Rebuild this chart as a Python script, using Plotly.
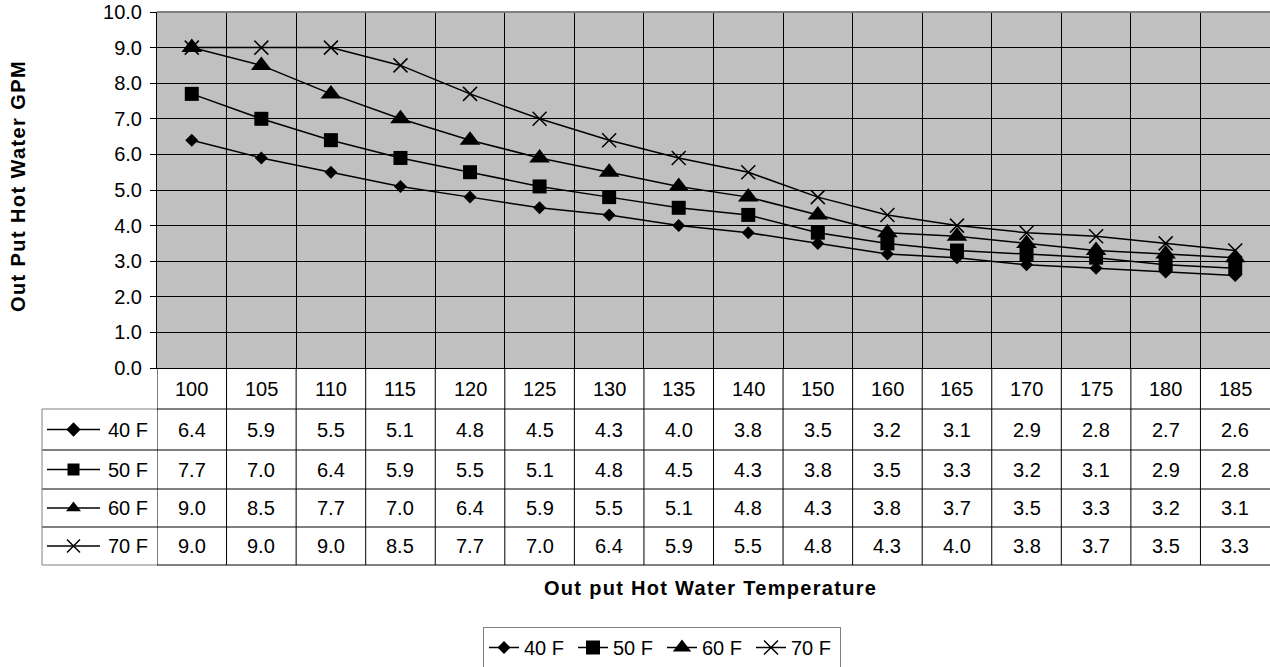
import plotly.graph_objects as go

# output hot water temperature (x categories)
temps = ["100", "105", "110", "115", "120", "125", "130", "135",
         "140", "150", "160", "165", "170", "175", "180", "185"]

series_names = ["40 F", "50 F", "60 F", "70 F"]
gpm_40 = [6.4, 5.9, 5.5, 5.1, 4.8, 4.5, 4.3, 4.0, 3.8, 3.5, 3.2, 3.1, 2.9, 2.8, 2.7, 2.6]
gpm_50 = [7.7, 7.0, 6.4, 5.9, 5.5, 5.1, 4.8, 4.5, 4.3, 3.8, 3.5, 3.3, 3.2, 3.1, 2.9, 2.8]
gpm_60 = [9.0, 8.5, 7.7, 7.0, 6.4, 5.9, 5.5, 5.1, 4.8, 4.3, 3.8, 3.7, 3.5, 3.3, 3.2, 3.1]
gpm_70 = [9.0, 9.0, 9.0, 8.5, 7.7, 7.0, 6.4, 5.9, 5.5, 4.8, 4.3, 4.0, 3.8, 3.7, 3.5, 3.3]
all_series = [gpm_40, gpm_50, gpm_60, gpm_70]

# marker styles
symbols = ["diamond", "square", "triangle-up", "x-thin"]
plot_sizes = [10, 14, 18, 14]
key_sizes = [11, 12, 13, 13]

W, H = 1270, 667
FONT = "Arial, Liberation Sans, sans-serif"
FS = 20
# layout positions in pixels
PLOT_L, PLOT_T, PLOT_B = 157, 12, 368
row_edges = [368, 409, 450, 489, 527, 565]   # table rows (header + 4 series)

fig = go.Figure()

for name, vals, sym, sz in zip(series_names, all_series, symbols, plot_sizes):
    fig.add_trace(go.Scatter(
        x=temps, y=vals, name=name, mode="lines+markers",
        line=dict(color="black", width=1.5),
        marker=dict(symbol=sym, size=sz, color="black",
                    line=dict(color="black", width=1.5 if sym == "x-thin" else 0)),
        xaxis="x", yaxis="y",
    ))

shapes = []
annotations = []

# plot area background (below gridlines)
shapes.append(dict(type="rect", xref="x domain", yref="y domain", x0=0, x1=1, y0=0, y1=1,
                   fillcolor="#c0c0c0", line=dict(width=0), layer="below"))
# gray top border
shapes.append(dict(type="line", xref="x domain", yref="y domain", x0=0, x1=1, y0=1, y1=1,
                   line=dict(color="#808080", width=2)))

# data table lines
for k, y in enumerate(row_edges[1:]):
    shapes.append(dict(type="line", xref="x2", yref="y2", x0=PLOT_L, x1=W, y0=y, y1=y,
                       line=dict(color="black", width=1)))
    shapes.append(dict(type="line", xref="x2", yref="y2", x0=42, x1=PLOT_L, y0=y, y1=y,
                       line=dict(color="#808080" if k in (0, 4) else "black", width=1)))
shapes.append(dict(type="line", xref="x2", yref="y2", x0=42, x1=42,
                   y0=row_edges[1], y1=row_edges[-1], line=dict(color="#808080", width=1)))
for j in range(len(temps)):
    shapes.append(dict(type="line", xref="x", yref="y2", x0=j - 0.5, x1=j - 0.5,
                       y0=row_edges[0], y1=row_edges[-1], line=dict(color="black", width=1)))

# header row labels
for j, t in enumerate(temps):
    annotations.append(dict(x=j, y=(row_edges[0] + row_edges[1]) / 2, xref="x", yref="y2",
                            text=t, showarrow=False, font=dict(size=FS)))

# series rows: key + values
for i, (name, vals) in enumerate(zip(series_names, all_series)):
    yc = (row_edges[i + 1] + row_edges[i + 2]) / 2
    shapes.append(dict(type="line", xref="x2", yref="y2", x0=47, x1=100, y0=yc, y1=yc,
                       line=dict(color="black", width=1.5)))
    fig.add_trace(go.Scatter(
        x=[73.5], y=[yc], mode="markers", showlegend=False, cliponaxis=False,
        marker=dict(symbol=symbols[i], size=key_sizes[i], color="black",
                    line=dict(color="black", width=1.5 if symbols[i] == "x-thin" else 0)),
        xaxis="x2", yaxis="y2", hoverinfo="skip",
    ))
    annotations.append(dict(x=106, y=yc, xref="x2", yref="y2", text=name, xanchor="left",
                            showarrow=False, font=dict(size=FS)))
    for j, v in enumerate(vals):
        annotations.append(dict(x=j, y=yc, xref="x", yref="y2", text=f"{v:.1f}",
                                showarrow=False, font=dict(size=FS)))

# axis titles
annotations.append(dict(x=710, y=588, xref="x2", yref="y2", showarrow=False,
                        text='<span style="letter-spacing:1.3px"><b>Out put Hot Water Temperature</b></span>',
                        font=dict(size=FS)))
annotations.append(dict(x=18, y=186, xref="x2", yref="y2", showarrow=False, textangle=-90,
                        text='<span style="letter-spacing:1.4px"><b>Out Put Hot Water GPM</b></span>',
                        font=dict(size=FS)))

fig.update_layout(
    width=W, height=H,
    margin=dict(l=0, r=0, t=0, b=0, autoexpand=False),
    paper_bgcolor="white",
    plot_bgcolor="rgba(0,0,0,0)",
    font=dict(family=FONT, size=FS, color="black"),
    xaxis=dict(domain=[PLOT_L / W, 1], type="category",
               range=[-0.5, len(temps) - 0.5],
               showgrid=True, gridcolor="black", gridwidth=1, tickson="boundaries",
               showticklabels=False, ticks="", showline=True, linecolor="black",
               linewidth=1, zeroline=False, fixedrange=True, automargin=False),
    yaxis=dict(domain=[(H - PLOT_B) / H, (H - PLOT_T) / H],
               range=[0, 10], dtick=1,
               tickformat=".1f", showgrid=True, gridcolor="black", gridwidth=1,
               ticks="outside", ticklen=6, tickcolor="black", showline=True,
               linecolor="black", linewidth=1, zeroline=False, fixedrange=True,
               tickfont=dict(size=FS), automargin=False, ticklabeloverflow="allow",
               ticklabelstandoff=4),
    xaxis2=dict(domain=[0, 1], range=[0, W], visible=False, anchor="y2",
                fixedrange=True, automargin=False),
    yaxis2=dict(domain=[0, 1], range=[H, 0], visible=False, anchor="x2",
                fixedrange=True, automargin=False),
    legend=dict(orientation="h", x=483 / W, y=1 - 627 / H,
                xanchor="left", yanchor="top",
                bordercolor="#808080", borderwidth=1, bgcolor="white",
                font=dict(size=FS), itemsizing="trace", entrywidth=44),
    shapes=shapes,
    annotations=annotations,
    showlegend=True,
)

# the page body has a default 8px margin; drop it so the figure sits at the window corner
fig.write_html("out.html", config={"displayModeBar": False},
               post_script="document.body.style.margin = '0';")
